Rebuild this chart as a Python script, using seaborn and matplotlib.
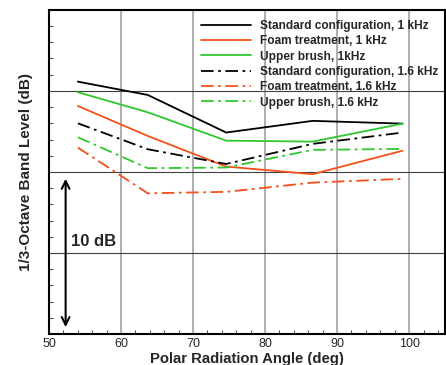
import matplotlib
matplotlib.use("Agg")
import matplotlib.pyplot as plt
import seaborn as sns
import pandas as pd
from matplotlib.ticker import MultipleLocator, NullFormatter

angles = [54.0, 63.7, 74.6, 86.6, 99.1]
std_1k = [15.57, 14.75, 12.43, 13.15, 12.98]
foam_1k = [14.07, 12.22, 10.33, 9.86, 11.31]
brush_1k = [14.92, 13.68, 11.93, 11.87, 12.98]
std_16k = [13.0, 11.40, 10.49, 11.73, 12.43]
foam_16k = [11.50, 8.68, 8.77, 9.34, 9.57]
brush_16k = [12.14, 10.23, 10.27, 11.36, 11.42]

labels = ["Standard configuration, 1 kHz", "Foam treatment, 1 kHz", "Upper brush, 1kHz",
          "Standard configuration, 1.6 kHz", "Foam treatment, 1.6 kHz", "Upper brush, 1.6 kHz"]
series = [std_1k, foam_1k, brush_1k, std_16k, foam_16k, brush_16k]

sns.set_style("white")
plt.rcParams['font.family'] = ['Liberation Sans', 'DejaVu Sans']

BLACK, ORANGE, GREEN = "#000000", "#F5501A", "#2EC82E"
colors = [BLACK, ORANGE, GREEN, BLACK, ORANGE, GREEN]
dashdot = (0, (7, 2.5, 1.5, 2.5))
styles = ["-", "-", "-", dashdot, dashdot, dashdot]

fig = plt.figure(figsize=(4.46, 3.65), dpi=100)
ax = fig.add_axes([0.110, 0.085, 0.888, 0.888])

for lab, vals, c, ls in zip(labels, series, colors, styles):
    df = pd.DataFrame({"angle": angles, "level": vals})
    sns.lineplot(data=df, x="angle", y="level", ax=ax, color=c, linestyle=ls,
                 linewidth=1.3, label=lab, zorder=3)

ax.set_xlim(50, 105)
ax.set_ylim(0, 20)
ax.xaxis.set_major_locator(MultipleLocator(10))
ax.xaxis.set_minor_locator(MultipleLocator(2))
ax.yaxis.set_major_locator(MultipleLocator(5))
ax.yaxis.set_minor_locator(MultipleLocator(1))
ax.yaxis.set_major_formatter(NullFormatter())
ax.set_xticks([50, 60, 70, 80, 90, 100])
ax.set_xticklabels(["50", "60", "70", "80", "90", "100"])

ax.tick_params(axis="both", which="major", direction="in", length=6, width=1.3,
               labelsize=9, top=False, right=False, pad=3)
ax.tick_params(axis="both", which="minor", direction="in", length=3, width=0.6,
               top=False, right=False)
ax.tick_params(axis="x", which="minor", bottom=True)
ax.tick_params(axis="y", which="minor", left=True)

ax.grid(False)
for xv in [60, 70, 80, 90, 100]:
    ax.axvline(xv, color="#a8a8a8", lw=1.3, zorder=1)
for yv in [5, 10, 15]:
    ax.axhline(yv, color="#404040", lw=0.8, zorder=1)

for s in ax.spines.values():
    s.set_color("black")
    s.set_linewidth(1.5)

ax.set_xlabel("Polar Radiation Angle (deg)", fontsize=10.7, fontweight="bold", labelpad=1)
ax.set_ylabel("1/3-Octave Band Level (dB)", fontsize=11, fontweight="bold", labelpad=8)

ax.annotate("", xy=(52.3, 0.25), xytext=(52.3, 9.75),
            arrowprops=dict(arrowstyle="<->", color="black", lw=1.5,
                            mutation_scale=14), zorder=4)
ax.text(53.0, 5.7, "10 dB", fontsize=12, fontweight="bold", va="center", ha="left")

leg = ax.legend(loc="upper right", bbox_to_anchor=(1.005, 0.995), frameon=False,
                fontsize=8.6, handlelength=4.2, handletextpad=0.8, labelspacing=0.28,
                borderaxespad=0.3)
for t in leg.get_texts():
    t.set_fontweight("bold")

fig.savefig("out.png", dpi=100)
